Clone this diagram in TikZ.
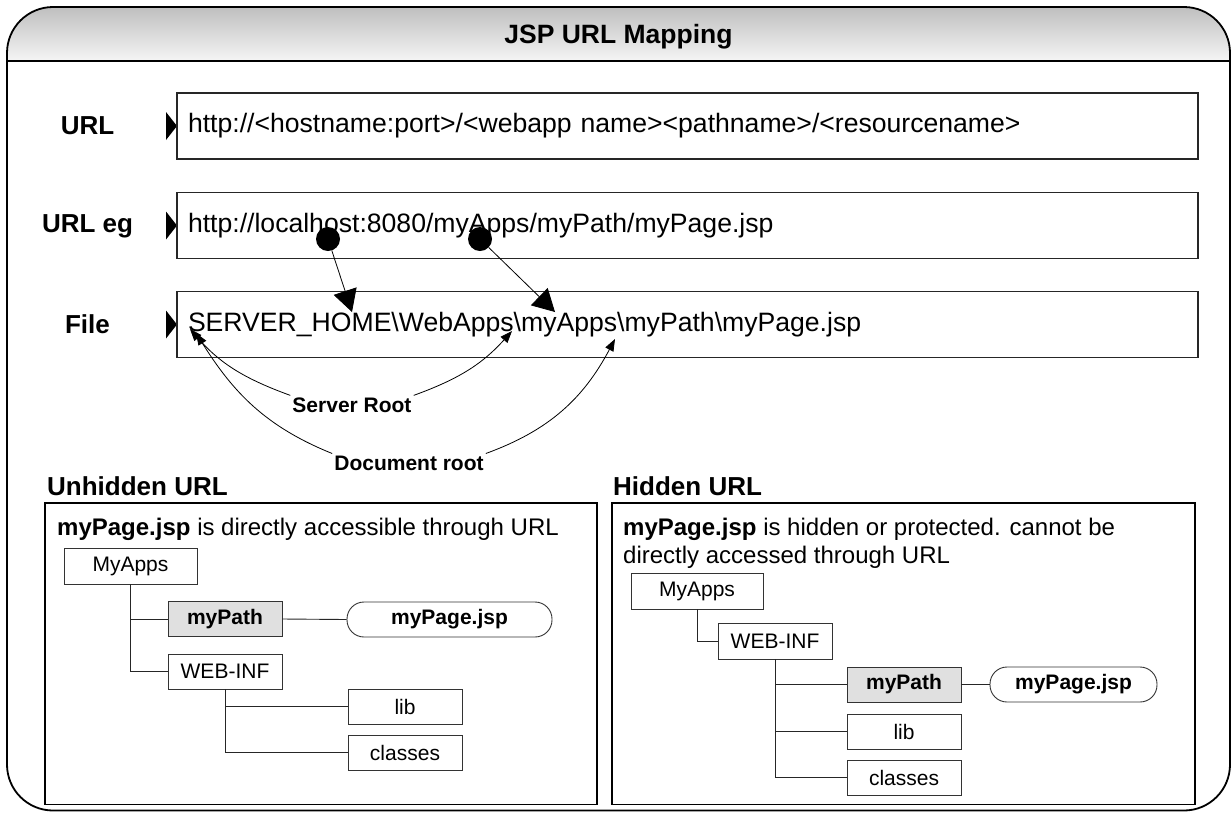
\documentclass[tikz,border=0pt]{standalone}
\usepackage{fontspec}
\setmainfont{Liberation Sans}
\usetikzlibrary{arrows.meta}
\begin{document}
\begin{tikzpicture}[x=1pt,y=1pt,
  rowbox/.style={draw=black!85, line width=1.1pt, minimum height=66pt, text width=999pt, inner xsep=11pt, inner ysep=0pt, align=left, font=\fontsize{26.6}{30}\selectfont},
  rowlabel/.style={font=\bfseries\fontsize{26}{30}\selectfont, inner sep=0pt},
  dot/.style={circle, fill=black, minimum size=24pt, inner sep=0pt},
  bigarrow/.style={line width=0.8pt, -{Triangle[length=22pt,width=24pt]}},
  curvearrow/.style={line width=0.8pt, -{Triangle[length=12pt,width=9pt]}},
  curvelabel/.style={font=\bfseries\fontsize{21}{25}\selectfont, inner sep=2pt},
  panel/.style={draw=black, line width=1.8pt},
  paneltitle/.style={font=\bfseries\fontsize{26}{30}\selectfont, inner sep=0pt, anchor=base west},
  paneltext/.style={font=\fontsize{24}{28}\selectfont, inner sep=0pt, anchor=north west, align=left},
  folder/.style={draw=black!80, line width=0.9pt, minimum height=35pt, inner sep=0pt, font=\fontsize{21}{25}\selectfont},
  pathbox/.style={folder, fill=black!12, font=\bfseries\fontsize{21}{25}\selectfont},
  filebox/.style={folder, rounded corners=17pt, font=\bfseries\fontsize{21}{25}\selectfont},
  tree/.style={draw=black!85, line width=0.9pt}
]
\useasboundingbox (0,0) rectangle (1231,-812);

% outer frame with shaded header
\begin{scope}
  \clip[rounded corners=46pt] (7,-7) rectangle (1230,-810.5);
  \shade[top color=black!25, bottom color=black!4] (7,-7) rectangle (1230,-61);
\end{scope}
\draw[line width=1.8pt, rounded corners=46pt] (7,-7) rectangle (1230,-810.5);
\draw[line width=1.8pt] (7,-61) -- (1230,-61);
\node[font=\bfseries\fontsize{26.5}{30}\selectfont, inner sep=0pt] (title) at (618.5,-36.5) {JSP URL Mapping};

% rows
\node[rowlabel] (lurl) at (87.5,-126) {URL};
\node[rowlabel] (leg) at (87.5,-226) {URL eg};
\node[rowlabel] (lfile) at (87.5,-324.5) {File};
\fill (166,-112) -- (177,-126) -- (166,-140) -- cycle;
\fill (166,-211.5) -- (177,-225.5) -- (166,-239.5) -- cycle;
\fill (166,-310.5) -- (177,-324.5) -- (166,-338.5) -- cycle;
\node[rowbox] (urlbox) at (687.5,-126) {http://<hostname:port>/<webapp name><pathname>/<resourcename>};
\node[rowbox] (egbox) at (687.5,-225.5) {http://localhost:8080/myApps/myPath/myPage.jsp};
\node[rowbox] (filebox) at (687.5,-324.5) {SERVER\_HOME\textbackslash WebApps\textbackslash myApps\textbackslash myPath\textbackslash myPage.jsp};

% mapping arrows
\node[dot] (d1) at (328,-239) {};
\node[dot] (d2) at (480,-239) {};
\coordinate (t1) at (352,-312);
\coordinate (t2) at (555,-312);
\draw[bigarrow] (d1) -- (t1);
\draw[bigarrow] (d2) -- (t2);

% roots
\node[curvelabel] (sr) at (352,-405) {Server Root};
\node[curvelabel] (dr) at (409,-463) {Document root};
\coordinate (srl) at (190,-329);
\coordinate (srr) at (512,-331);
\coordinate (drl) at (196,-333);
\coordinate (drr) at (615,-339);
\draw[curvearrow] (sr.north west) to[out=160,in=-49] (srl);
\draw[curvearrow] (sr.north east) to[out=20,in=-132] (srr);
\draw[curvearrow] (dr.north west) to[out=158,in=-58] (drl);
\draw[curvearrow] (dr.north east) to[out=20,in=-118] (drr);

% panels
\node[paneltitle] (ut) at (47,-495) {Unhidden URL};
\node[paneltitle] (ht) at (613,-495) {Hidden URL};
\draw[panel] (45,-503) rectangle (597,-804.5);
\draw[panel] (612,-503) rectangle (1195,-804.5);
\node[paneltext] (utext) at (57,-517.5) {\textbf{myPage.jsp} is directly accessible through URL};
\node[paneltext] (htext) at (623,-517.5) {\textbf{myPage.jsp} is hidden or protected. cannot be\\directly accessed through URL};

% left tree
\node[folder, minimum width=133pt, minimum height=36pt] (lapps) at (130.5,-566) {MyApps};
\node[pathbox, minimum width=114pt] (lpath) at (225,-619) {myPath};
\node[folder, minimum width=114pt] (lweb) at (225,-671.5) {WEB-INF};
\node[filebox, minimum width=205pt] (lpage) at (449.5,-619.5) {myPage.jsp};
\node[folder, minimum width=114pt] (llib) at (405,-706.5) {lib};
\node[folder, minimum width=114pt] (lcls) at (405,-752.5) {classes};
\draw[tree] (lapps.south) |- (lweb.west);
\draw[tree] (lapps.south |- lpath.west) -- (lpath.west);
\draw[tree] (lpath.east) -- (lpage.west);
\draw[tree] (lweb.south) |- (lcls.west);
\draw[tree] (lweb.south |- llib.west) -- (llib.west);

% right tree
\node[folder, minimum width=132pt, minimum height=36pt] (rapps) at (697,-591) {MyApps};
\node[folder, minimum width=114pt, minimum height=36pt] (rweb) at (775,-641) {WEB-INF};
\node[pathbox, minimum width=114pt] (rpath) at (904,-684.5) {myPath};
\node[filebox, minimum width=167pt] (rpage) at (1073.5,-684.5) {myPage.jsp};
\node[folder, minimum width=114pt] (rlib) at (904,-731.5) {lib};
\node[folder, minimum width=114pt] (rcls) at (904,-777.5) {classes};
\draw[tree] (rapps.south) |- (rweb.west);
\draw[tree] (rweb.south) |- (rcls.west);
\draw[tree] (rweb.south |- rpath.west) -- (rpath.west);
\draw[tree] (rweb.south |- rlib.west) -- (rlib.west);
\draw[tree] (rpath.east) -- (rpage.west);
\end{tikzpicture}
\end{document}
